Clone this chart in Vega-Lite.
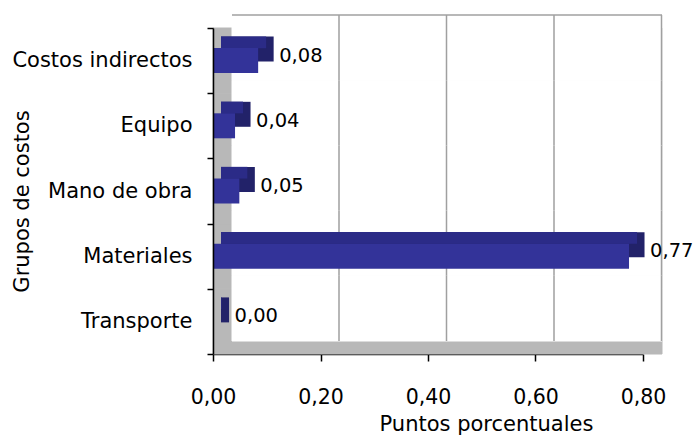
{
  "$schema": "https://vega.github.io/schema/vega-lite/v6.json",
  "width": 430,
  "height": 326,
  "autosize": "none",
  "padding": {"left": 213, "top": 28, "right": 52, "bottom": 82},
  "background": "white",
  "config": {
    "locale": {"number": {"decimal": ",", "thousands": ".", "grouping": [3], "currency": ["", " €"]}},
    "view": {"stroke": null},
    "font": "DejaVu Sans"
  },
  "datasets": {
    "costos": [
      {"grupo": "Costos indirectos", "valor": 0.084},
      {"grupo": "Equipo", "valor": 0.041},
      {"grupo": "Mano de obra", "valor": 0.049},
      {"grupo": "Materiales", "valor": 0.774},
      {"grupo": "Transporte", "valor": 0.001}
    ],
    "rejilla": [
      {"grupo": "Costos indirectos", "x": 0.2}, {"grupo": "Equipo", "x": 0.2}, {"grupo": "Mano de obra", "x": 0.2}, {"grupo": "Materiales", "x": 0.2}, {"grupo": "Transporte", "x": 0.2},
      {"grupo": "Costos indirectos", "x": 0.4}, {"grupo": "Equipo", "x": 0.4}, {"grupo": "Mano de obra", "x": 0.4}, {"grupo": "Materiales", "x": 0.4}, {"grupo": "Transporte", "x": 0.4},
      {"grupo": "Costos indirectos", "x": 0.6}, {"grupo": "Equipo", "x": 0.6}, {"grupo": "Mano de obra", "x": 0.6}, {"grupo": "Materiales", "x": 0.6}, {"grupo": "Transporte", "x": 0.6},
      {"grupo": "Costos indirectos", "x": 0.8}, {"grupo": "Equipo", "x": 0.8}, {"grupo": "Mano de obra", "x": 0.8}, {"grupo": "Materiales", "x": 0.8}, {"grupo": "Transporte", "x": 0.8}
    ]
  },
  "layer": [
    {
      "data": {"name": "costos"},
      "mark": {"type": "rect", "fill": "#b8b8b8", "stroke": "#b8b8b8", "strokeWidth": 1, "x2Offset": 19},
      "encoding": {
        "y": {"field": "grupo", "type": "nominal", "sort": ["Costos indirectos", "Equipo", "Mano de obra", "Materiales", "Transporte"], "scale": {"paddingInner": 0, "paddingOuter": 0},
          "axis": {"title": "Grupos de costos", "titleFontSize": 21, "titleFontWeight": "normal", "titleColor": "black", "titleX": -191, "titleY": 173, "titleAngle": -90, "titleAlign": "center", "titleBaseline": "middle",
            "labelFontSize": 21, "labelLimit": 300, "labelColor": "black", "labelPadding": 15, "tickSize": 6, "tickColor": "black", "tickBand": "extent", "domainColor": "black", "domainWidth": 1.5, "tickWidth": 1.5}},
        "x": {"datum": 0, "type": "quantitative", "scale": {"domain": [0, 0.8]},
          "axis": {"title": "Puntos porcentuales", "titleFontSize": 21, "titleFontWeight": "normal", "titleColor": "black", "titleX": 273, "titleY": 70, "titleAlign": "center", "titleBaseline": "middle",
            "values": [0, 0.2, 0.4, 0.6, 0.8], "format": ".2f", "labelFontSize": 20.5, "labelColor": "black", "labelPadding": 26, "tickSize": 7, "tickColor": "black", "domainColor": "black", "domainWidth": 1.5, "tickWidth": 1.5, "grid": false, "labelFlush": false}},
        "x2": {"datum": 0.8}
      }
    },
    {
      "data": {"name": "costos"},
      "mark": {"type": "rect", "fill": "white", "stroke": "white", "strokeWidth": 1, "xOffset": 19, "x2Offset": 19, "yOffset": -13},
      "encoding": {
        "y": {"field": "grupo", "type": "nominal", "sort": ["Costos indirectos", "Equipo", "Mano de obra", "Materiales", "Transporte"]},
        "x": {"datum": 0, "type": "quantitative"},
        "x2": {"datum": 0.8}
      }
    },
    {
      "data": {"name": "rejilla"},
      "mark": {"type": "rect", "fill": null, "stroke": "#a0a0a0", "strokeWidth": 1.5, "xOffset": 18.5, "x2Offset": 18.5, "yOffset": -13},
      "encoding": {
        "y": {"field": "grupo", "type": "nominal", "sort": ["Costos indirectos", "Equipo", "Mano de obra", "Materiales", "Transporte"]},
        "x": {"field": "x", "type": "quantitative"},
        "x2": {"field": "x"}
      }
    },
    {
      "data": {"values": [{"a": 0, "b": 0.8}]},
      "mark": {"type": "rule", "color": "#a0a0a0", "strokeWidth": 1.5, "xOffset": 19, "x2Offset": 19, "yOffset": -13},
      "encoding": {
        "y": {"datum": "Costos indirectos", "type": "nominal", "bandPosition": 0},
        "x": {"field": "a", "type": "quantitative"},
        "x2": {"field": "b"}
      }
    },
    {
      "data": {"name": "costos"},
      "mark": {"type": "rect", "color": "#222269", "height": {"band": 0.383}, "xOffset": 15.5, "x2Offset": 8, "yOffset": -11.5},
      "encoding": {
        "y": {"field": "grupo", "type": "nominal", "sort": ["Costos indirectos", "Equipo", "Mano de obra", "Materiales", "Transporte"]},
        "x": {"field": "valor", "type": "quantitative"},
        "x2": {"datum": 0}
      }
    },
    {
      "data": {"name": "costos"},
      "mark": {"type": "rect", "color": "#2b2b87", "height": {"band": 0.18}, "xOffset": 8, "x2Offset": 8, "yOffset": -18.3},
      "encoding": {
        "y": {"field": "grupo", "type": "nominal", "sort": ["Costos indirectos", "Equipo", "Mano de obra", "Materiales", "Transporte"]},
        "x": {"field": "valor", "type": "quantitative"},
        "x2": {"datum": 0}
      }
    },
    {
      "data": {"name": "costos"},
      "mark": {"type": "bar", "color": "#333399", "size": 25},
      "encoding": {
        "y": {"field": "grupo", "type": "nominal", "sort": ["Costos indirectos", "Equipo", "Mano de obra", "Materiales", "Transporte"]},
        "x": {"field": "valor", "type": "quantitative"}
      }
    },
    {
      "data": {"name": "costos"},
      "mark": {"type": "text", "align": "left", "baseline": "middle", "dx": 21, "dy": -5, "fontSize": 19.5, "color": "black"},
      "encoding": {
        "y": {"field": "grupo", "type": "nominal", "sort": ["Costos indirectos", "Equipo", "Mano de obra", "Materiales", "Transporte"]},
        "x": {"field": "valor", "type": "quantitative"},
        "text": {"field": "valor", "type": "quantitative", "format": ".2f"}
      }
    }
  ]
}
